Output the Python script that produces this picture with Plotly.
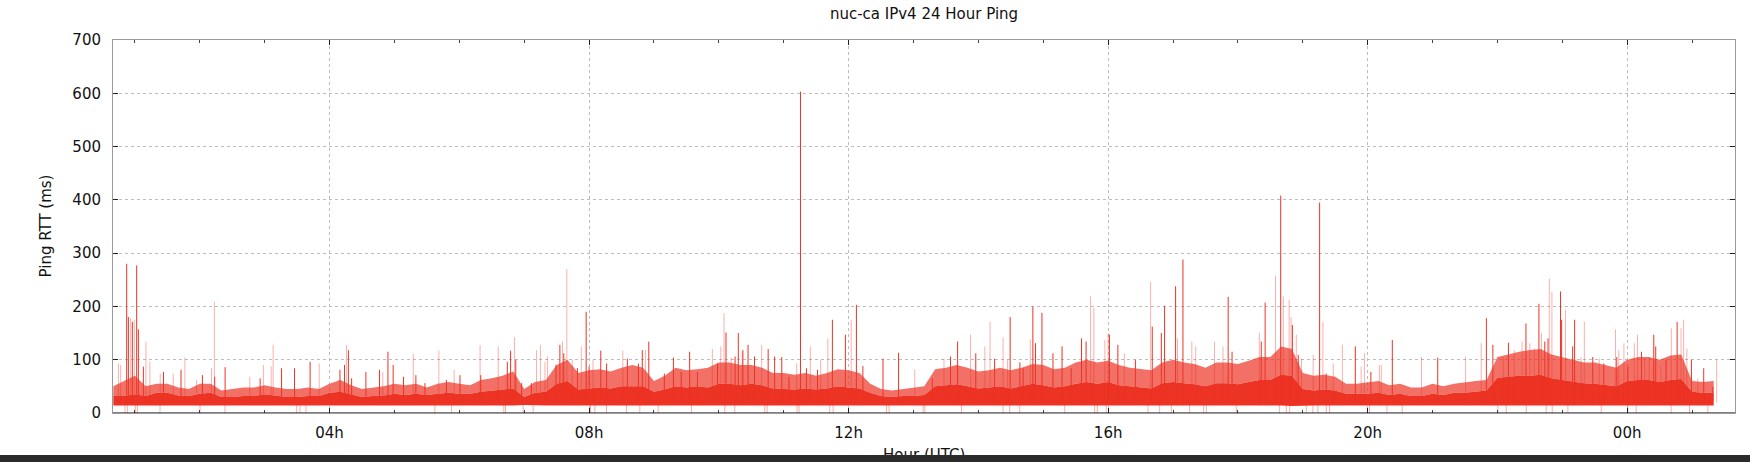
import plotly.graph_objects as go

# ---------------- text ----------------
title_text = "nuc-ca IPv4 24 Hour Ping"
x_title = "Hour (UTC)"
y_title = "Ping RTT (ms)"

# ---------------- axes ----------------
x_range_hours = [0.662, 25.662]
x_tick_hours = [4, 8, 12, 16, 20, 24]
x_tick_labels = ["04h", "08h", "12h", "16h", "20h", "00h"]
y_tick_values = [0, 100, 200, 300, 400, 500, 600, 700]

# ---------------- data ----------------
# dense band, one value per 10-minute bin starting 00:40 UTC
band_start_hour = 40 / 60
band_step_hour = 10 / 60
band_low = [14, 14, 13, 14, 14, 14, 14, 14, 14, 14, 14, 14, 14, 14, 14, 14, 14, 14, 14, 14, 14, 14, 14, 14, 14, 14, 14, 14, 14,
            14, 14, 14, 14, 14, 14, 14, 14, 14, 15, 14, 14, 14, 14, 14, 14, 14, 14, 14, 14, 14, 14, 14, 14, 14, 14, 14, 14, 14, 14,
            14, 14, 14, 14, 14, 14, 14, 14, 14, 14, 14, 15, 15, 15, 15, 15, 14, 14, 14, 14, 14, 14, 14, 14, 14, 14, 14, 14, 14, 14,
            14, 14, 14, 14, 14, 14, 14, 14, 14, 14, 14, 14, 14, 14, 14, 14, 14, 14, 14, 14, 13, 14, 14, 14, 14, 14, 14, 14, 14,
            14, 14, 14, 14, 14, 14, 14, 14, 14, 14, 14, 14, 14, 14, 14, 14, 14, 14, 14, 14, 14, 14, 14, 14, 14, 14, 14, 14, 14, 14, 14]
band_core = [32, 32, 35, 32, 38, 38, 33, 32, 36, 38, 30, 30, 32, 32, 35, 32, 30, 30, 32, 32, 38, 40, 35, 30, 32, 33, 36, 34, 36,
             34, 36, 38, 36, 36, 40, 42, 44, 46, 30, 38, 40, 55, 60, 44, 46, 48, 46, 50, 50, 50, 40, 44, 50, 48, 50, 48, 55, 55, 52,
             55, 52, 46, 45, 44, 46, 44, 46, 50, 48, 46, 38, 32, 30, 32, 32, 34, 50, 52, 54, 50, 46, 48, 50, 46, 50, 55, 52, 48, 50,
             55, 58, 55, 58, 52, 50, 48, 46, 56, 58, 56, 54, 50, 56, 56, 54, 58, 62, 62, 72, 70, 45, 42, 44, 42, 36, 36, 36, 38,
             34, 36, 32, 32, 36, 34, 38, 38, 40, 42, 66, 68, 70, 70, 72, 65, 62, 60, 56, 55, 52, 50, 60, 62, 62, 58, 62, 64, 40, 38, 38]
band_upper = [50, 60, 70, 50, 55, 55, 48, 45, 55, 55, 42, 45, 48, 48, 52, 48, 45, 45, 48, 45, 55, 62, 52, 45, 48, 50, 55, 52, 55,
              48, 55, 58, 55, 52, 62, 65, 70, 78, 45, 58, 62, 90, 100, 75, 80, 82, 78, 85, 90, 85, 60, 70, 85, 80, 82, 85, 95, 95, 90,
              90, 85, 75, 75, 72, 75, 70, 75, 82, 80, 75, 55, 45, 42, 45, 48, 50, 82, 85, 90, 85, 78, 80, 85, 80, 85, 92, 90, 82, 85,
              95, 100, 95, 98, 90, 85, 82, 80, 95, 100, 95, 92, 85, 95, 95, 92, 98, 105, 105, 125, 120, 75, 70, 72, 68, 55, 55, 58, 60,
              52, 55, 48, 48, 55, 50, 55, 58, 60, 62, 105, 110, 115, 118, 120, 110, 105, 100, 95, 95, 90, 85, 100, 105, 105, 100, 108, 110, 60, 58, 60]

# solid spikes (hour, ms)
spike_hours = [0.873, 0.899, 0.96, 1.027, 1.053, 1.13, 1.44, 1.71, 2.04, 2.23, 2.39, 2.93, 3.26, 3.46, 3.70, 4.16, 4.23, 4.29,
               4.34, 4.56, 4.77, 4.90, 4.98, 5.14, 5.33, 5.47, 5.80, 6.01, 6.33, 6.74, 6.79, 6.87, 6.96, 7.11, 7.49, 7.55, 7.61,
               7.82, 7.955, 8.00, 8.18, 8.27, 8.59, 8.76, 8.82, 8.92, 9.16, 9.30, 9.42, 9.55, 9.67, 9.98, 10.11, 10.25, 10.30,
               10.37, 10.45, 10.55, 10.76, 10.86, 10.97, 11.08, 11.258, 11.35, 11.52, 11.75, 11.95, 12.12, 12.22, 12.53, 12.77,
               13.29, 13.57, 13.68, 13.96, 14.25, 14.49, 14.64, 14.69, 14.84, 14.88, 14.98, 15.15, 15.29, 15.43, 15.59, 15.66,
               16.02, 16.15, 16.42, 16.68, 16.82, 16.87, 17.04, 17.153, 17.85, 17.91, 18.36, 18.42, 18.66, 18.84, 18.93, 19.26,
               19.36, 19.81, 20.05, 20.38, 21.08, 21.83, 21.93, 22.17, 22.44, 22.64, 22.73, 22.78, 22.973, 22.99, 23.16, 23.19,
               23.47, 23.64, 23.84, 24.01, 24.22, 24.41, 24.44, 24.60, 24.77, 24.99, 25.18, 25.32]
spike_ms = [280, 180, 171, 277, 157, 87, 77, 81, 71, 68, 86, 65, 84, 84, 96, 81, 90, 118,
            65, 77, 81, 115, 90, 68, 71, 56, 62, 71, 71, 96, 117, 100, 56, 56, 90, 128, 112,
            84, 190, 87, 117, 93, 102, 93, 118, 134, 74, 104, 77, 115, 77, 93, 151, 106, 150,
            118, 128, 106, 120, 106, 105, 68, 603, 84, 81, 175, 147, 203, 88, 102, 113,
            65, 106, 134, 112, 102, 180, 95, 84, 200, 131, 188, 112, 125, 84, 140, 134,
            147, 128, 100, 162, 150, 201, 238, 288, 218, 115, 134, 207, 408, 165, 109, 395,
            74, 125, 77, 137, 104, 178, 128, 132, 168, 205, 134, 140, 228, 175, 125, 175,
            105, 93, 105, 87, 115, 147, 125, 100, 171, 100, 84, 49]

# single-sample (faint) spikes (hour, ms)
faint_hours = [0.745, 0.78, 0.934, 0.99, 1.17, 1.23, 1.39, 1.59, 1.77, 1.95, 2.18, 2.224, 2.77, 2.98, 3.10, 3.13, 3.84, 4.26,
               4.82, 5.29, 5.685, 5.92, 6.32, 6.60, 6.85, 7.19, 7.25, 7.32, 7.36, 7.59, 7.657, 7.74, 7.88, 8.06, 8.52, 8.87,
               9.90, 10.03, 10.08, 10.19, 10.36, 10.66, 11.20, 11.41, 11.57, 11.68, 12.04, 13.02, 13.47, 13.88, 14.10, 14.18,
               14.38, 14.45, 14.80, 15.73, 15.78, 15.95, 16.0, 16.25, 16.655, 17.07, 17.29, 17.35, 17.64, 17.77, 18.33, 18.58,
               18.70, 18.79, 18.82, 18.90, 18.98, 19.16, 19.31, 19.47, 19.61, 19.90, 19.95, 20.18, 20.21, 20.83, 21.51, 21.75,
               22.09, 22.26, 22.38, 22.50, 22.57, 22.68, 22.80, 22.84, 23.05, 23.29, 23.34, 23.57, 23.82, 23.87, 23.95, 24.11,
               24.16, 24.27, 24.34, 24.52, 24.68, 24.83, 24.87, 24.92, 25.09, 25.38]
faint_ms = [93, 90, 178, 175, 134, 96, 74, 74, 104, 62, 84, 209, 68, 90, 88, 128, 93, 128,
            77, 111, 117, 81, 127, 125, 142, 118, 128, 96, 106, 134, 270, 100, 125, 100, 117, 118,
            120, 125, 187, 104, 115, 128, 93, 125, 100, 140, 175, 82, 102, 147, 125, 171,
            142, 100, 138, 219, 197, 137, 150, 112, 246, 140, 134, 125, 134, 125, 151, 258,
            219, 212, 180, 147, 102, 109, 171, 93, 128, 87, 112, 90, 90, 105, 106, 131,
            105, 118, 134, 131, 121, 150, 252, 227, 194, 105, 171, 102, 157, 118, 131, 131,
            147, 102, 105, 87, 159, 159, 175, 121, 65, 100]

# lost pings recorded as 0 ms (hour)
drop_hours = [0.847, 0.883, 1.006, 1.037, 1.387, 2.003, 2.388, 3.492, 3.544, 3.636,
              5.623, 5.88, 6.686, 6.712, 6.984, 7.138, 8.022, 8.088, 8.268, 8.576, 8.782, 9.064, 9.578, 10.092, 10.245,
              10.708, 10.744, 11.206, 11.237, 11.71, 11.761, 12.583, 12.624, 13.148, 13.174, 13.739, 14.381, 14.483,
              14.637, 15.331, 15.792, 15.833, 15.972, 16.614, 16.794, 16.974, 17.256, 17.472, 17.513, 17.975, 18.643,
              18.746, 18.797, 19.054, 19.156, 19.233, 19.362, 19.413, 20.029, 20.297, 20.533, 22.007, 22.136, 22.444,
              22.752, 22.845, 23.086, 23.6, 24.01, 24.139, 24.678, 24.961, 25.243]

# ---------------- styling ----------------
RED = "rgb(236,51,36)"
RED_SOFT = "rgba(236,51,36,0.7)"
RED_FAINT = "rgba(236,51,36,0.38)"
FONT = "DejaVu Sans"

band_hours = [band_start_hour + i * band_step_hour for i in range(len(band_core))]


def segments(hours, tops, base):
    xs, ys = [], []
    for h, v in zip(hours, tops):
        xs += [h, h, None]
        ys += [base, v, None]
    return xs, ys


fig = go.Figure()
fig.add_trace(go.Scatter(x=band_hours, y=band_low, mode="lines", line=dict(width=0, color=RED),
                         hoverinfo="skip", showlegend=False))
fig.add_trace(go.Scatter(x=band_hours, y=band_core, mode="lines", line=dict(width=0, color=RED),
                         fill="tonexty", fillcolor=RED, hoverinfo="skip", showlegend=False))
fig.add_trace(go.Scatter(x=band_hours, y=band_upper, mode="lines", line=dict(width=0, color=RED),
                         fill="tonexty", fillcolor=RED_SOFT, hoverinfo="skip", showlegend=False))

dx, dy = segments(drop_hours, [0] * len(drop_hours), 16)
fig.add_trace(go.Scatter(x=dx, y=dy, mode="lines", line=dict(width=1, color=RED_FAINT),
                         hoverinfo="skip", showlegend=False))
fx, fy = segments(faint_hours, faint_ms, 20)
fig.add_trace(go.Scatter(x=fx, y=fy, mode="lines", line=dict(width=1, color=RED_FAINT),
                         hoverinfo="skip", showlegend=False))
sx, sy = segments(spike_hours, spike_ms, 20)
fig.add_trace(go.Scatter(x=sx, y=sy, mode="lines", line=dict(width=1, color=RED),
                         hoverinfo="skip", showlegend=False))

axis_font = dict(family=FONT, size=15, color="#111111")

fig.update_layout(
    width=1750, height=455,
    margin=dict(l=113, r=15, t=40, b=42, autoexpand=False),
    paper_bgcolor="white", plot_bgcolor="white",
    font=dict(family=FONT, size=15, color="#111111"),
    title=dict(text=title_text, x=0.5, xref="paper", xanchor="center",
               y=1 - 14 / 455, yref="container", yanchor="middle",
               font=dict(family=FONT, size=15, color="#111111")),
    xaxis=dict(range=x_range_hours, tickmode="array", tickvals=x_tick_hours, ticktext=x_tick_labels,
               ticks="inside", ticklen=5, tickcolor="#222222", tickfont=axis_font,
               showline=True, linecolor="#9a9a9a", linewidth=1, mirror="ticks",
               showgrid=True, gridcolor="#bdbdbd", griddash="dot", gridwidth=1,
               zeroline=False, ticklabelstandoff=6,
               minor=dict(dtick=1, ticks="inside", ticklen=3, tickcolor="#444444", showgrid=False),
               automargin=False),
    yaxis=dict(range=[0, 700], tickmode="array", tickvals=y_tick_values,
               ticks="inside", ticklen=5, tickcolor="#222222", tickfont=axis_font,
               showline=True, linecolor="#9a9a9a", linewidth=1, mirror="ticks",
               showgrid=True, gridcolor="#bdbdbd", griddash="dot", gridwidth=1,
               zeroline=False, ticklabelstandoff=8, automargin=False),
    shapes=[dict(type="line", xref="paper", yref="y", x0=0, x1=1, y0=0, y1=0,
                 line=dict(color="#000000", width=1.2), layer="above")],
    annotations=[
        dict(text=y_title, xref="paper", yref="paper", x=-68 / 1622, y=0.5, textangle=-90,
             showarrow=False, xanchor="center", yanchor="middle", font=dict(family=FONT, size=15, color="#111111")),
        dict(text=x_title, xref="paper", yref="paper", x=0.5, y=-31 / 373, showarrow=False,
             xanchor="center", yanchor="top", font=dict(family=FONT, size=15, color="#111111")),
    ],
)

fig.write_html("out.html", config={"displayModeBar": False},
               post_script="document.body.style.margin='0';document.body.style.background='#2b2b2b';document.body.style.overflow='hidden';")
